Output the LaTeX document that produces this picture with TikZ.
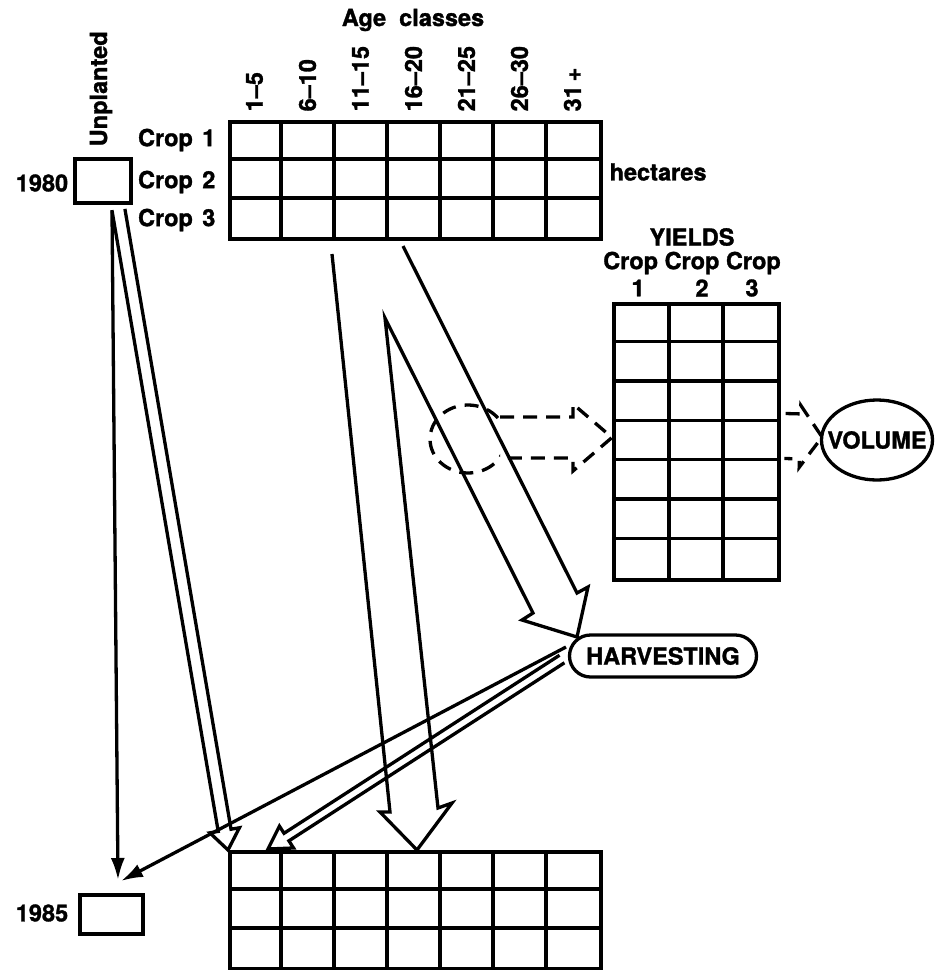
\documentclass[tikz,border=0pt]{standalone}
\usepackage{fontspec}
\setmainfont{TeX Gyre Heros}[BoldFeatures={FakeBold=1.3}]
\usetikzlibrary{calc,arrows.meta,shapes.geometric}
% #1 style, #2 tail, #3 tip, #4 half shaft width, #5 half head width, #6 head length
\newcommand\hollowarr[6][]{%
  \draw[#1] ($(#2)!#4!90:(#3)$) -- ($(#3)!#6!(#2)!#4!-90:(#2)$)
    -- ($(#3)!#6!(#2)!#5!-90:(#2)$) -- (#3)
    -- ($(#3)!#6!(#2)!#5!90:(#2)$) -- ($(#3)!#6!(#2)!#4!90:(#2)$)
    -- ($(#2)!#4!-90:(#3)$);}
\begin{document}
\begin{tikzpicture}[x=1pt,y=-1pt,line width=3.3pt,
  lbl/.style={font=\fontsize{23.5}{27}\selectfont\bfseries,inner sep=0pt},
  cellbox/.style={draw,line width=3.5pt,inner sep=0pt,anchor=north west},
  gridline/.style={line width=3.5pt},
  dsh/.style={line width=3.3pt,dash pattern=on 14pt off 9pt},
  arrowline/.style={line width=3.3pt,-{Latex[length=22pt,width=14pt]}}]
\useasboundingbox (0,0) rectangle (940,970);

% ---------- top grid (1980) ----------
\node[cellbox,minimum width=371pt,minimum height=117pt] (topgrid) at (228,120) {};
\foreach \i in {1,...,6}
  \draw[gridline] ($(topgrid.north west)+(53*\i,0)$) -- ($(topgrid.south west)+(53*\i,0)$);
\foreach \j in {1,2}
  \draw[gridline] ($(topgrid.north west)+(0,39*\j)$) -- ($(topgrid.north east)+(0,39*\j)$);

\node[lbl] (ageclasses) at (413,20) {Age\ \ classes};
\foreach \t [count=\i from 0] in {1--5,6--10,11--15,16--20,21--25,26--30,31\,+}
  \node[lbl,rotate=90,anchor=west] (age\i) at (254.5+53*\i,113) {\t};

\node[lbl,anchor=east] (crop1) at (217,140) {Crop\hspace{0.4em}1};
\node[lbl,anchor=east] (crop2) at (217,182) {Crop\hspace{0.4em}2};
\node[lbl,anchor=east] (crop3) at (217,220) {Crop\hspace{0.4em}3};
\node[lbl,anchor=west] (hect) at (608,172) {hectares};

% ---------- unplanted 1980 ----------
\node[cellbox,minimum width=56pt,minimum height=44pt] (unpl) at (73,157) {};
\node[lbl,rotate=90,anchor=west] (unpltxt) at (101,148) {Unplanted};
\node[lbl] (y1980) at (42,183) {1980};

% ---------- bottom grid (1985) ----------
\node[cellbox,minimum width=371pt,minimum height=117pt] (botgrid) at (228,850) {};
\foreach \i in {1,...,6}
  \draw[gridline] ($(botgrid.north west)+(53*\i,0)$) -- ($(botgrid.south west)+(53*\i,0)$);
\foreach \j in {1,2}
  \draw[gridline] ($(botgrid.north west)+(0,39*\j)$) -- ($(botgrid.north east)+(0,39*\j)$);
\node[cellbox,minimum width=63pt,minimum height=39pt] (unpl85) at (78,893) {};
\node[lbl] (y1985) at (42,913) {1985};

% ---------- yields grid ----------
\node[cellbox,minimum width=165pt,minimum height=276pt] (yield) at (612,302) {};
\draw[gridline] ($(yield.north west)+(57,0)$) -- ($(yield.south west)+(57,0)$);
\draw[gridline] ($(yield.north west)+(111,0)$) -- ($(yield.south west)+(111,0)$);
\foreach \j in {1,...,6}
  \draw[gridline] ($(yield.north west)+(0,39.43*\j)$) -- ($(yield.north east)+(0,39.43*\j)$);
\node[lbl] (yieldstxt) at (692,237) {YIELDS};
\node[lbl] (cropcrop) at (692,263) {Crop Crop Crop};
\node[lbl] (n1) at (638,288) {1};
\node[lbl] (n2) at (702,288) {2};
\node[lbl] (n3) at (752,288) {3};

% ---------- volume and harvesting ----------
\node[draw,ellipse,line width=3.3pt,minimum width=111pt,minimum height=80pt,inner sep=0pt] (vol) at (877,440) {};
\node[lbl] (voltxt) at (vol.center) {VOLUME};
\node[draw,rectangle,rounded corners=21pt,line width=3.3pt,minimum width=187pt,minimum height=42pt,
      inner sep=0pt] (harv) at (663,656) {};
\node[lbl] (harvtxt) at (harv.center) {HARVESTING};

% ---------- arrows from unplanted 1980 ----------
\coordinate (uA) at (112,210);
\coordinate (t85a) at (118,880);
\draw[arrowline] (uA) -- (t85a);
\coordinate (uB) at (118.5,210);
\coordinate (tipA) at (228,850);
\hollowarr[line join=miter]{uB}{tipA}{6.5pt}{15pt}{20pt}

% ---------- split arrow from top grid ----------
\coordinate (sL) at (332,254);
\coordinate (sR) at (403,246);
\coordinate (apex) at (385,318);
\coordinate (tipH) at (577,637);
\coordinate (tipG) at (417,850);
\draw[line join=miter] (sR) -- (577,593) -- (588,587) -- (tipH) -- (522,620) -- (533,613)
  -- (apex) -- (438,808) -- (452,803) -- (tipG) -- (380,812) -- (390,812) -- (sL);

% ---------- arrows from harvesting ----------
\coordinate (hv1) at (566,647);
\coordinate (t85b) at (121,881);
\draw[arrowline] (hv1) -- (t85b);
\coordinate (hvB) at (562,659);
\coordinate (tipB) at (268,849);
\hollowarr[line join=miter]{hvB}{tipB}{4.5pt}{13pt}{22pt}

% ---------- dashed selection and flows ----------
\begin{scope}
  \clip (0,0) rectangle (500,970);
  \draw[dsh] (468,439) ellipse [x radius=38pt,y radius=34pt];
\end{scope}
\coordinate (dT) at (500,437.5);
\coordinate (dTip) at (612,437.5);
\hollowarr[dsh,line join=miter]{dT}{dTip}{20.5pt}{33.5pt}{39pt}
\coordinate (vT) at (785,436);
\coordinate (vTip) at (822,437);
\hollowarr[dsh,line join=miter]{vT}{vTip}{22.5pt}{31pt}{22pt}
\end{tikzpicture}
\end{document}
